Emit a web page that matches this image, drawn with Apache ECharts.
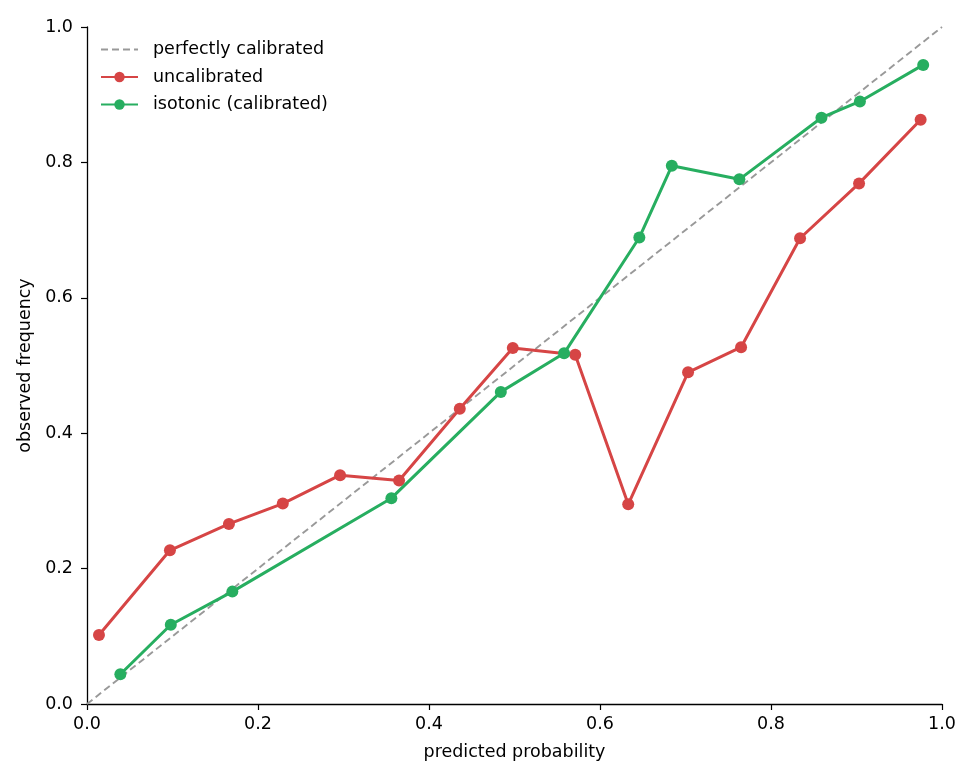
<!DOCTYPE html>
<html>
<head>
<meta charset="utf-8">
<script src="https://cdn.jsdelivr.net/npm/echarts@6/dist/echarts.min.js"></script>
<style>html,body{margin:0;padding:0;background:#fff}#c{width:975px;height:780px}</style>
</head>
<body>
<div id="c"></div>
<script>
const uncalX = [0.014, 0.097, 0.166, 0.229, 0.296, 0.365, 0.436, 0.498, 0.571, 0.633, 0.703, 0.765, 0.834, 0.903, 0.975];
const uncalY = [0.102, 0.227, 0.266, 0.296, 0.338, 0.330, 0.436, 0.526, 0.516, 0.295, 0.490, 0.527, 0.688, 0.769, 0.863];
const isoX = [0.039, 0.098, 0.170, 0.356, 0.484, 0.558, 0.646, 0.684, 0.763, 0.859, 0.904, 0.978];
const isoY = [0.044, 0.117, 0.166, 0.304, 0.461, 0.518, 0.689, 0.795, 0.775, 0.866, 0.890, 0.944];
const diagX = [0, 1];
const diagY = [0, 1];
const ticks = [0, 0.2, 0.4, 0.6, 0.8, 1.0];

const zip = (a, b) => a.map((v, i) => [v, b[i]]);
const font = 'DejaVu Sans';
const fs = 17.5;
const chart = echarts.init(document.getElementById('c'), null, {renderer: 'canvas'});
const axisCommon = {
  type: 'value', min: 0, max: 1, interval: 0.2,
  axisLine: {show: true, onZero: false, lineStyle: {color: '#000', width: 1.3}},
  axisTick: {show: true, inside: false, length: 6, lineStyle: {color: '#000', width: 1.2}},
  axisLabel: {color: '#000', fontFamily: font, fontSize: fs, formatter: v => v.toFixed(1)},
  splitLine: {show: false},
  nameLocation: 'middle',
  nameTextStyle: {color: '#000', fontFamily: font, fontSize: fs}
};
chart.setOption({
  animation: false,
  backgroundColor: '#fff',
  grid: {left: 87, right: 33, top: 27, bottom: 76, containLabel: false},
  xAxis: Object.assign({}, axisCommon, {name: 'predicted probability', nameGap: 39,
    axisLabel: Object.assign({}, axisCommon.axisLabel, {margin: 11})}),
  yAxis: Object.assign({}, axisCommon, {name: 'observed frequency', nameGap: 49,
    axisLabel: Object.assign({}, axisCommon.axisLabel, {margin: 14})}),
  legend: {
    left: 95, top: 35, orient: 'vertical', itemGap: 8.5, itemWidth: 37, itemHeight: 13,
    textStyle: {color: '#000', fontFamily: font, fontSize: fs, lineHeight: 19, padding: [0, 0, 0, 10]},
    data: [
      {name: 'perfectly calibrated', itemStyle: {opacity: 0}},
      'uncalibrated', 'isotonic (calibrated)'
    ]
  },
  series: [
    {name: 'perfectly calibrated', type: 'line', data: zip(diagX, diagY), symbol: 'none',
     lineStyle: {color: '#999', width: 1.9, type: [7, 4]}, itemStyle: {color: '#999'}, z: 1},
    {name: 'uncalibrated', type: 'line', data: zip(uncalX, uncalY), symbol: 'circle', symbolSize: 12,
     lineStyle: {color: '#d64545', width: 3}, itemStyle: {color: '#d64545'}, z: 2},
    {name: 'isotonic (calibrated)', type: 'line', data: zip(isoX, isoY), symbol: 'circle', symbolSize: 12,
     lineStyle: {color: '#27ae60', width: 3}, itemStyle: {color: '#27ae60'}, z: 3}
  ]
});
</script>
</body>
</html>
